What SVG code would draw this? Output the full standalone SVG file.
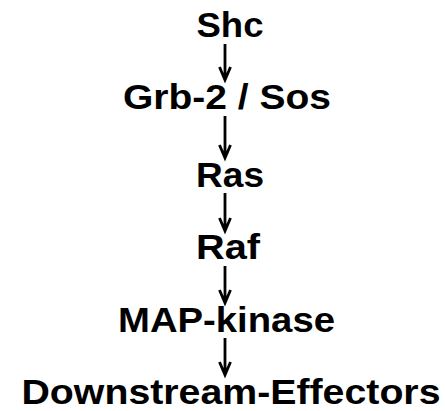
<svg xmlns="http://www.w3.org/2000/svg" width="445" height="411" viewBox="0 0 445 411">
<style>
.t{font-family:"Liberation Sans",Arial,sans-serif;font-weight:bold;font-size:35px;fill:#000;text-anchor:middle}
.c{stroke:#000;stroke-width:2.8;fill:none}
</style>
<rect width="445" height="411" fill="#fff"/>
<g id="shc"><text class="t" x="230" y="37" textLength="67" lengthAdjust="spacingAndGlyphs">Shc</text></g>
<g id="grb2sos"><text class="t" x="227" y="109" textLength="208" lengthAdjust="spacingAndGlyphs">Grb-2 / Sos</text></g>
<g id="ras"><text class="t" x="230" y="186.5" textLength="68" lengthAdjust="spacingAndGlyphs">Ras</text></g>
<g id="raf"><text class="t" x="228" y="259.3" textLength="64" lengthAdjust="spacingAndGlyphs">Raf</text></g>
<g id="mapk"><text class="t" x="226.5" y="331.7" textLength="217" lengthAdjust="spacingAndGlyphs">MAP-kinase</text></g>
<g id="effectors"><text class="t" x="231" y="403.5" textLength="419" lengthAdjust="spacingAndGlyphs">Downstream-Effectors</text></g>
<g id="connectors">
<path class="c" d="M225 44V80M219.5 67L225 80L230.5 67"/>
<path class="c" d="M225 116V158M219.5 145L225 158L230.5 145"/>
<path class="c" d="M225 193V231M219.5 218L225 231L230.5 218"/>
<path class="c" d="M225 266V303M219.5 290L225 303L230.5 290"/>
<path class="c" d="M225 338V375M219.5 362L225 375L230.5 362"/>
</g>
</svg>
